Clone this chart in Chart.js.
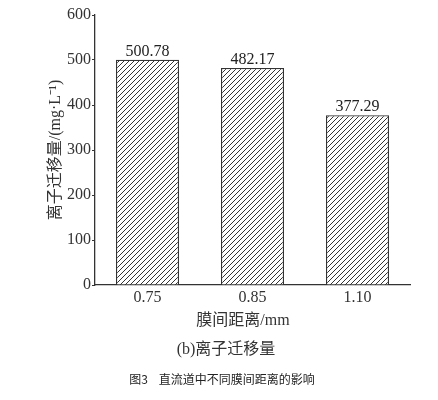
<!DOCTYPE html>
<html>
<head>
<meta charset="utf-8">
<script src="https://cdn.jsdelivr.net/npm/chart.js"></script>
<style>
  html, body { margin: 0; padding: 0; background: #fff; }
  #wrap { position: relative; width: 438px; height: 400px; }
</style>
</head>
<body>
<div id="wrap"><canvas id="ionChart" width="438" height="400"></canvas></div>
<script>
// 膜间距离 (mm)
const categories = ["0.75", "0.85", "1.10"];
// 离子迁移量 (mg·L⁻¹)
const migration = [500.78, 482.17, 377.29];
const yTicks = [0, 100, 200, 300, 400, 500, 600];

const serif = "'Liberation Serif', 'Times New Roman', 'Noto Sans CJK SC', serif";
const cjk = "'Liberation Serif', 'Noto Sans CJK SC', serif";

// diagonal hatch "/" like the printed figure
function hatch() {
    const s = 5;
    const c = document.createElement("canvas");
    c.width = s; c.height = s;
    const g = c.getContext("2d");
    g.fillStyle = "#fff";
    g.fillRect(0, 0, s, s);
    g.strokeStyle = "#333";
    g.lineWidth = 1;
    g.beginPath();
    g.moveTo(0, s); g.lineTo(s, 0);
    g.moveTo(-1, 1); g.lineTo(1, -1);
    g.moveTo(s - 1, s + 1); g.lineTo(s + 1, s - 1);
    g.stroke();
    return g.createPattern(c, "repeat");
}

// value labels above bars + captions under the chart
const labelsPlugin = {
    id: "labels",
    afterDatasetsDraw(chart) {
        const ctx = chart.ctx;
        const meta = chart.getDatasetMeta(0);
        ctx.save();
        ctx.fillStyle = "#222";
        ctx.font = "16px " + serif;
        ctx.textAlign = "center";
        ctx.textBaseline = "bottom";
        meta.data.forEach((bar, i) => {
            ctx.fillText(migration[i].toFixed(2), bar.x, bar.y);
        });
        ctx.restore();
    },
    afterDraw(chart) {
        const ctx = chart.ctx;
        ctx.save();
        ctx.fillStyle = "#333";
        ctx.textAlign = "center";
        ctx.textBaseline = "middle";
        ctx.font = "16px " + cjk;
        ctx.fillText("膜间距离/mm", 243, 321);
        ctx.fillText("(b)离子迁移量", 226, 350);
        ctx.font = "12px 'Noto Sans CJK SC', sans-serif";
        ctx.fillStyle = "#222";
        ctx.fillText("图3    直流道中不同膜间距离的影响", 222, 379);
        ctx.restore();
    }
};

const ctx = document.getElementById("ionChart").getContext("2d");
new Chart(ctx, {
    type: "bar",
    data: {
        labels: categories,
        datasets: [{
            data: migration,
            backgroundColor: hatch(),
            borderColor: "#333",
            borderWidth: 1.3,
            borderSkipped: "bottom",
            categoryPercentage: 1,
            barPercentage: 0.6
        }]
    },
    options: {
        responsive: false,
        animation: false,
        layout: { padding: { left: 0, right: 28, top: 15, bottom: 65 } },
        plugins: {
            legend: { display: false },
            tooltip: { enabled: false }
        },
        scales: {
            x: {
                grid: { display: false, drawTicks: false },
                border: { color: "#333", width: 1.3 },
                ticks: { color: "#333", font: { family: serif, size: 16 }, padding: 3 },
                afterFit(scale) { scale.height = 50; }
            },
            y: {
                min: 0,
                max: 600,
                afterBuildTicks(scale) { scale.ticks = yTicks.map(v => ({ value: v })); },
                grid: { drawOnChartArea: false, drawTicks: true, tickLength: 3, color: "#333" },
                border: { color: "#333", width: 1.3 },
                ticks: { color: "#333", font: { family: serif, size: 16 }, padding: 1 },
                title: {
                    display: true,
                    text: "离子迁移量/(mg·L⁻¹)",
                    color: "#333",
                    font: { family: cjk, size: 16 },
                    padding: { top: 46, bottom: 0 }
                },
                afterFit(scale) { scale.width = 95; }
            }
        }
    },
    plugins: [labelsPlugin]
});
</script>
</body>
</html>
